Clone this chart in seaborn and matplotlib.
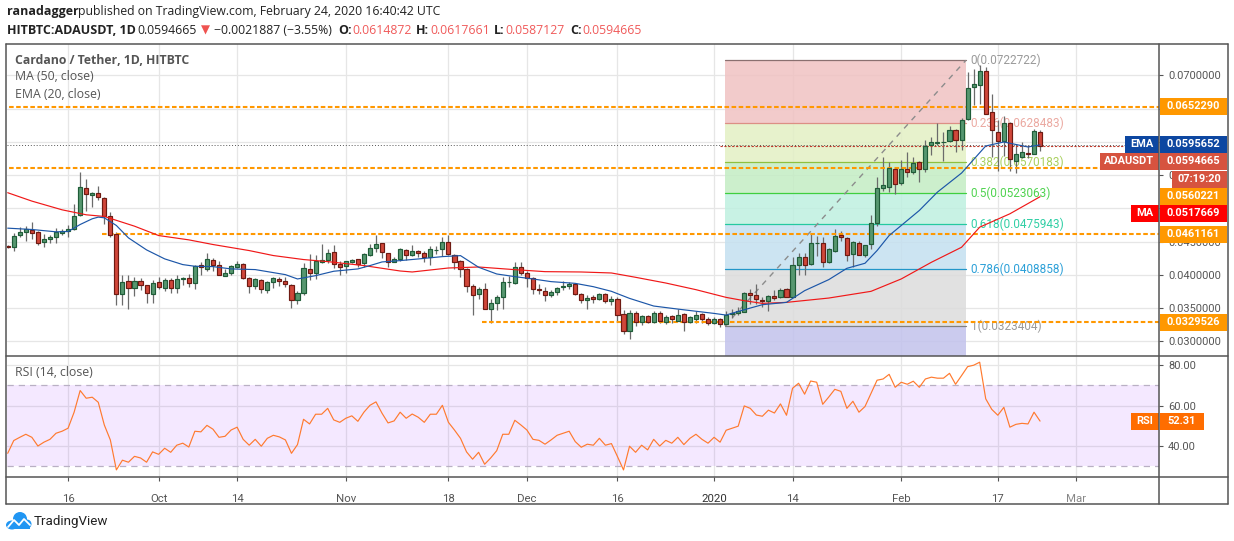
import pandas as pd
import numpy as np
import seaborn as sns
import matplotlib
matplotlib.use("Agg")
import matplotlib.pyplot as plt
from matplotlib.lines import Line2D
from matplotlib.patches import Rectangle, Ellipse

W, H = 1234, 541

# prices are read in 0.001 USDT, one entry per day, first candle is 6 Sep 2019
first_day = -10  # days counted from 16 Sep 2019

opens = [
    44.43, 44.17, 45.98, 46.49, 46.79, 46.49, 44.93, 45.38, 45.68, 46.29,
    46.54, 46.89, 48.95, 53.12, 52.01, 52.37, 51.61, 48.90, 46.19, 37.09,
    39.10, 37.99, 39.10, 38.50, 37.09, 38.95, 37.99, 39.25, 37.99, 39.35,
    39.55, 38.75, 41.51, 40.86, 42.27, 41.51, 39.80, 40.26, 41.16, 41.66,
    39.55, 38.30, 39.25, 37.69, 38.90, 39.40, 39.10, 38.50, 36.19, 37.24,
    40.91, 40.26, 41.96, 42.22, 43.47, 41.66, 41.31, 41.91, 42.42, 41.76,
    42.97, 44.02, 44.83, 43.32, 42.01, 42.37, 43.77, 43.01, 43.62, 43.32,
    42.66, 43.77, 43.87, 44.97, 43.01, 42.11, 40.90, 38.34, 37.08, 37.89,
    34.82, 35.73, 36.63, 38.89, 38.79, 41.20, 40.30, 39.55, 37.89, 37.64,
    36.93, 37.44, 38.14, 38.34, 38.64, 37.13, 36.18, 36.68, 36.33, 37.13,
    36.03, 36.38, 34.12, 31.51, 34.27, 32.86, 33.77, 32.86, 34.27, 32.86,
    33.77, 33.12, 34.12, 32.86, 33.32, 34.12, 33.37, 32.71, 33.37, 32.56,
    34.12, 34.22, 34.47, 37.29, 36.99, 36.23, 36.03, 36.84, 36.63, 37.89,
    36.63, 41.46, 42.71, 41.66, 44.78, 44.83, 41.96, 43.57, 46.03, 45.58,
    43.17, 44.83, 43.02, 44.67, 47.84, 53.12, 53.27, 55.98, 53.87, 55.98,
    55.53, 57.04, 55.98, 59.50, 59.90, 59.95, 60.15, 61.86, 60.35, 63.52,
    68.34, 68.64, 70.60, 64.57, 61.56, 60.15, 62.92, 57.19, 57.74, 58.39,
    58.19, 61.49,
]
highs = [
    44.53, 46.29, 47.19, 47.29, 48.04, 46.59, 46.19, 46.08, 47.09, 46.94,
    47.59, 50.61, 55.43, 54.48, 52.47, 53.32, 51.71, 49.40, 46.39, 40.05,
    40.05, 39.65, 39.55, 38.50, 39.25, 39.75, 39.55, 39.55, 40.05, 39.75,
    40.15, 41.56, 41.96, 43.37, 42.57, 42.17, 40.86, 41.56, 42.17, 41.86,
    39.75, 39.50, 39.45, 39.15, 39.65, 39.65, 39.65, 38.65, 37.54, 41.86,
    43.17, 43.07, 44.68, 43.97, 44.48, 42.17, 42.17, 42.42, 42.42, 43.37,
    44.68, 46.08, 44.83, 43.32, 42.67, 44.07, 43.92, 44.57, 43.77, 43.57,
    44.42, 44.42, 45.78, 46.08, 43.16, 42.26, 41.00, 38.64, 38.24, 38.74,
    36.38, 37.03, 39.75, 39.90, 41.96, 41.96, 40.65, 39.65, 38.64, 38.24,
    37.74, 38.24, 39.04, 38.89, 38.84, 37.34, 37.03, 36.93, 37.34, 37.34,
    36.83, 36.63, 34.72, 34.72, 34.52, 33.97, 33.97, 34.52, 34.52, 33.92,
    34.02, 34.82, 34.32, 33.87, 34.52, 34.32, 33.62, 33.62, 33.52, 34.52,
    34.87, 35.23, 37.39, 37.94, 38.64, 36.63, 37.04, 37.74, 38.04, 38.04,
    42.76, 43.27, 43.37, 46.28, 45.93, 45.78, 44.07, 46.84, 46.58, 45.68,
    45.18, 45.08, 44.57, 48.95, 54.72, 57.74, 56.99, 56.13, 57.24, 58.54,
    57.74, 57.14, 60.25, 60.76, 62.87, 61.46, 62.36, 62.01, 63.57, 70.50,
    71.00, 71.61, 71.31, 67.19, 63.27, 63.87, 63.02, 59.75, 60.05, 59.50,
    62.01, 61.77,
]
lows = [
    44.07, 43.57, 45.78, 45.18, 45.48, 44.48, 44.17, 44.78, 44.78, 46.08,
    45.68, 46.79, 48.80, 49.60, 50.20, 51.21, 47.69, 45.78, 35.53, 35.53,
    34.83, 36.89, 37.74, 35.83, 35.83, 37.94, 37.54, 37.34, 37.34, 38.55,
    38.14, 37.94, 40.05, 40.66, 40.56, 39.95, 39.80, 40.05, 41.06, 39.45,
    37.34, 37.84, 37.34, 37.34, 38.04, 38.40, 38.25, 35.08, 35.68, 37.04,
    39.25, 39.35, 41.76, 41.76, 41.06, 39.95, 40.26, 41.76, 41.16, 41.26,
    42.87, 43.42, 42.57, 41.16, 41.91, 42.17, 42.26, 42.91, 42.76, 41.91,
    41.56, 43.17, 42.91, 43.01, 40.85, 39.65, 37.39, 34.02, 36.43, 34.82,
    32.76, 34.72, 34.92, 38.24, 38.64, 40.05, 38.14, 37.18, 37.13, 36.13,
    36.63, 37.03, 37.74, 37.89, 37.03, 35.83, 34.92, 35.83, 36.23, 35.73,
    35.53, 33.11, 31.10, 30.30, 32.31, 32.41, 32.76, 32.81, 32.71, 32.61,
    32.71, 33.01, 31.51, 32.71, 32.71, 32.81, 32.51, 32.61, 32.21, 32.51,
    33.52, 34.02, 34.37, 35.63, 35.63, 35.23, 34.52, 36.23, 36.53, 36.73,
    36.63, 40.05, 40.05, 41.51, 42.92, 41.16, 41.81, 43.47, 45.18, 42.06,
    41.26, 42.97, 42.66, 43.97, 47.44, 52.61, 52.46, 52.11, 53.47, 54.73,
    55.13, 54.02, 55.53, 58.04, 59.50, 57.14, 60.00, 58.44, 58.84, 63.37,
    65.53, 65.78, 64.17, 57.74, 55.63, 57.84, 55.63, 55.33, 57.64, 57.64,
    58.14, 58.71,
]
closes = [
    44.17, 45.88, 46.49, 46.84, 46.29, 44.78, 45.43, 45.68, 46.39, 46.64,
    46.94, 48.90, 53.27, 52.22, 52.37, 51.71, 48.85, 45.98, 37.09, 38.95,
    37.99, 39.10, 38.45, 37.24, 38.80, 38.14, 39.25, 37.99, 39.40, 39.60,
    38.75, 41.31, 41.16, 42.42, 41.46, 39.95, 40.30, 41.36, 41.66, 39.50,
    38.30, 39.40, 37.84, 38.95, 39.55, 39.10, 38.60, 36.19, 37.29, 41.06,
    40.26, 42.11, 42.32, 43.32, 41.66, 41.21, 42.11, 42.32, 41.66, 43.12,
    44.07, 44.68, 43.42, 42.01, 42.42, 43.92, 43.01, 43.62, 43.32, 42.66,
    43.92, 43.82, 44.97, 43.11, 41.91, 40.85, 38.29, 36.93, 37.89, 34.82,
    35.78, 36.68, 38.94, 38.99, 41.20, 40.25, 39.55, 37.84, 37.74, 36.93,
    37.44, 38.04, 38.34, 38.64, 37.08, 36.18, 36.53, 36.38, 37.13, 36.03,
    36.38, 33.92, 31.51, 34.27, 32.86, 33.77, 32.86, 34.27, 33.01, 33.67,
    33.32, 33.97, 32.86, 33.67, 33.97, 33.32, 32.71, 33.37, 32.56, 33.97,
    34.27, 34.57, 37.29, 36.94, 36.33, 36.03, 36.84, 36.48, 37.79, 36.73,
    41.51, 42.71, 41.46, 44.83, 44.83, 41.96, 43.92, 45.88, 45.73, 43.02,
    44.98, 43.02, 44.47, 47.84, 53.12, 53.47, 56.13, 53.72, 55.98, 55.53,
    56.89, 55.98, 59.35, 60.05, 60.05, 60.05, 61.86, 60.35, 63.37, 68.19,
    68.79, 70.70, 64.27, 61.76, 60.15, 62.92, 57.49, 58.24, 58.54, 58.19,
    61.71, 59.47,
]
rsi_values = [
    36.4, 42.7, 44.3, 45.8, 44.3, 40.0, 41.9, 43.3, 46.3, 47.3,
    48.8, 56.7, 67.4, 63.6, 64.1, 61.6, 50.4, 43.0, 28.2, 33.0,
    32.0, 34.9, 34.1, 32.0, 37.1, 35.9, 38.9, 36.9, 40.4, 41.4,
    39.5, 47.3, 47.0, 50.2, 48.3, 44.3, 44.8, 47.9, 49.3, 43.3,
    40.4, 43.3, 39.9, 43.8, 45.3, 44.5, 43.0, 36.4, 40.7, 53.2,
    50.9, 55.7, 55.7, 58.6, 52.9, 51.7, 53.7, 54.9, 52.2, 56.7,
    60.1, 61.8, 56.2, 51.4, 52.4, 56.7, 53.7, 55.8, 54.2, 51.7,
    55.7, 55.7, 60.1, 51.7, 47.9, 43.8, 37.1, 33.5, 36.9, 31.0,
    34.1, 37.7, 45.8, 45.8, 52.7, 50.4, 47.9, 43.3, 42.8, 40.9,
    43.0, 45.3, 46.3, 47.3, 42.2, 39.4, 40.9, 40.4, 43.8, 40.4,
    41.2, 34.8, 28.2, 39.9, 36.9, 40.4, 38.1, 43.3, 40.0, 42.8,
    41.4, 44.3, 40.7, 43.8, 45.8, 43.3, 41.4, 44.3, 41.9, 47.8,
    48.8, 49.8, 59.8, 58.6, 55.3, 54.7, 57.7, 56.3, 60.8, 55.2,
    68.5, 71.0, 65.6, 72.1, 71.5, 60.6, 64.2, 68.0, 67.0, 58.6,
    62.1, 56.7, 59.5, 66.0, 72.5, 73.1, 75.4, 69.0, 71.5, 70.5,
    72.0, 69.0, 73.1, 74.0, 73.5, 73.5, 75.9, 70.5, 74.8, 79.2,
    79.9, 81.4, 63.3, 58.1, 55.2, 59.1, 49.3, 50.7, 51.2, 50.9,
    56.7, 52.31,
]

ema_days = [-10, -6, -2, 0, 2, 4, 5, 6, 8, 10, 13, 16, 19, 21, 24, 27, 31, 36, 38, 41,
            44, 48, 50, 52, 55, 58, 62, 65, 68, 71, 74, 77, 80, 84, 87, 90, 93, 97, 101,
            107, 109, 111, 115, 119, 122, 126, 129, 132, 134, 136, 141, 144, 148, 152,
            155, 159, 161]
ema_vals = [47.04, 46.84, 46.49, 46.54, 47.59, 48.45, 48.70, 48.60, 47.44, 45.58, 43.77,
            42.42, 41.56, 41.31, 41.26, 40.91, 40.81, 40.05, 39.40, 39.90, 40.56, 40.91,
            41.41, 41.96, 42.16, 42.41, 42.76, 42.91, 41.16, 40.15, 39.75, 39.40, 39.00,
            38.74, 38.24, 37.54, 36.48, 35.33, 34.87, 34.22, 33.97, 34.52, 35.53, 35.88,
            37.64, 39.30, 41.00, 41.76, 43.67, 45.93, 49.70, 52.46, 55.33, 59.40, 60.00,
            59.25, 59.57]
ma_days = [-10, -6, -1, 3, 6, 11, 15, 20, 24, 30, 34, 39, 43, 49, 55, 57, 60, 63, 68, 74,
           79, 85, 90, 94, 99, 104, 109, 112, 115, 119, 126, 133, 138, 143, 148, 151,
           156, 161]
ma_vals = [52.37, 51.11, 49.80, 49.05, 48.80, 47.34, 45.93, 45.28, 44.58, 43.67, 42.92,
           42.32, 42.01, 41.41, 40.60, 40.45, 40.75, 41.05, 41.20, 40.80, 40.50, 40.45,
           40.30, 39.65, 38.79, 37.79, 36.63, 36.13, 35.73, 35.88, 36.53, 37.54, 39.40,
           41.91, 44.17, 47.19, 49.20, 51.77]

tick_days = [0, 15, 28, 46, 63, 76, 91, 107, 120, 138, 154, 167]
tick_names = ["16", "Oct", "14", "Nov", "18", "Dec", "16", "2020", "14", "Feb", "17", "Mar"]
price_ticks = [0.03, 0.035, 0.04, 0.045, 0.05, 0.055, 0.06, 0.065, 0.07]
# these three are fully covered by the value boxes in the reference
covered_ticks = [0.05, 0.06, 0.065]
rsi_ticks = [40, 60, 80]

fib_ratios = ["0", "0.236", "0.382", "0.5", "0.618", "0.786", "1"]
fib_prices = [0.0722722, 0.0628483, 0.0570183, 0.0523063, 0.0475943, 0.0408858, 0.0323404]
fib_lines = ["#8a7070", "#dc8f85", "#8fc03f", "#3fcf3f", "#25c9a0", "#2196c9", "#808080"]
fib_texts = ["#9a9a9a", "#eba9a1", "#a9d05f", "#4fd34f", "#30cfa5", "#2ca0d8", "#9a9a9a"]
fib_bands = ["#f0c2c2", "#e3f0c4", "#c4edc4", "#bff0e0", "#c4e0f0", "#dcdcdc", "#c2c2ec"]
fib_start, fib_end = 108.8, 148.7

# horizontal levels: price, first day
levels = [(0.0652290, -11), (0.0560221, -11), (0.0461161, 5.6), (0.0329526, 68.6)]


def set_config():
    sns.set_theme(style="whitegrid", rc={
        "grid.color": "#e6e6e6", "grid.linewidth": 0.9,
        "xtick.color": "#555555", "ytick.color": "#555555",
        "axes.edgecolor": "#555555",
    })
    plt.rcParams["font.family"] = ["Roboto", "DejaVu Sans"]


def px_axes(fig, x0, y0, x1, y1):
    return fig.add_axes([x0 / W, 1 - y1 / H, (x1 - x0) / W, (y1 - y0) / H])


def fig_text(fig, x, y, s, **kw):
    kw.setdefault("va", "center")
    fig.text(x / W, 1 - y / H, s, **kw)


def fig_line(fig, x0, y0, x1, y1, color="#555555", lw=1.1):
    fig.add_artist(Line2D([x0 / W, x1 / W], [1 - y0 / H, 1 - y1 / H], color=color, lw=lw,
                          transform=fig.transFigure, zorder=6))


def box(fig, x0, x1, yc, s, color, height=17, txt="white", align="center"):
    fig.add_artist(Rectangle((x0 / W, 1 - (yc + height / 2) / H), (x1 - x0) / W, height / H,
                             facecolor=color, edgecolor="none",
                             transform=fig.transFigure, zorder=5))
    fig.text((x0 + x1) / 2 / W, 1 - yc / H, s, color=txt, fontsize=7.9, fontweight="bold",
             ha=align, va="center", zorder=7)


def draw_price_pane(ax, df):
    ax.set_xlim(-10.2, 180.7)
    ax.set_ylim(0.02789, 0.07481)
    ax.set_xticks(tick_days)
    ax.set_xticklabels([])
    ax.set_yticks(price_ticks)
    ax.set_yticklabels(["" if p in covered_ticks else "%.7f" % p for p in price_ticks], fontsize=7.9)
    ax.yaxis.tick_right()
    ax.tick_params(axis="y", length=3, width=0.8, pad=3.5, right=True)
    ax.tick_params(axis="x", length=0)
    ax.grid(True, zorder=0)
    ax.set_axisbelow(True)
    for s in ax.spines.values():
        s.set_visible(False)

    # fibonacci bands and levels
    edges = fib_prices + [0.02789]
    for i, c in enumerate(fib_bands):
        ax.fill_between([fib_start, fib_end], edges[i + 1], edges[i], color=c, alpha=0.85,
                        lw=0, zorder=1)
    for r, p, lc, tc in zip(fib_ratios, fib_prices, fib_lines, fib_texts):
        ax.plot([fib_start, fib_end], [p, p], color=lc, lw=0.9, zorder=2)
        ax.text(fib_end + 0.8, p, "%s(%.7f)" % (r, p), color=tc, fontsize=8.5, va="center",
                ha="left", zorder=2.2)
    ax.plot([fib_start, fib_end], [fib_prices[-1], fib_prices[0]], color="#8c8c8c", lw=1,
            dashes=(4, 4), zorder=2)

    # candles
    up = df[df.close >= df.open]
    down = df[df.close < df.open]
    for part, body, edge in ((up, "#56976f", "#1f5c38"), (down, "#d0473a", "#6e1a12")):
        ax.vlines(part.day, part.low, part.high, color="#6b6b6b", lw=0.9, zorder=3)
        ax.bar(part.day, (part.close - part.open).abs(), bottom=part[["open", "close"]].min(axis=1),
               width=0.68, color=body, edgecolor=edge, linewidth=0.85, zorder=4)

    for price, start in levels:
        ax.plot([start, 180.7], [price, price], color="#ff9800", lw=1.5, dashes=(2.2, 1.2), zorder=3.5)
    ax.plot([-10.2, 180.7], [closes[-1] / 1000 + 0.0001] * 2, color="#555555", lw=0.7,
            dashes=(1, 2), zorder=2.5)
    ax.plot([108, 180.7], [closes[-1] / 1000] * 2, color="#c0392b", lw=0.8, dashes=(2, 1.5), zorder=3.6)

    ema = pd.DataFrame({"day": ema_days, "value": np.array(ema_vals) / 1000})
    ma = pd.DataFrame({"day": ma_days, "value": np.array(ma_vals) / 1000})
    sns.lineplot(data=ma, x="day", y="value", color="#f01818", lw=0.85, ax=ax, zorder=5)
    sns.lineplot(data=ema, x="day", y="value", color="#1c56a8", lw=0.85, ax=ax, zorder=5)
    ax.set_xlabel("")
    ax.set_ylabel("")


def draw_rsi_pane(ax, df):
    ax.set_xlim(-10.2, 180.7)
    ax.set_ylim(24.7, 84.7)
    ax.set_yticks(rsi_ticks)
    ax.set_yticklabels(["%.2f" % v for v in rsi_ticks], fontsize=7.9)
    ax.yaxis.tick_right()
    ax.set_xticks(tick_days)
    ax.set_xticklabels(tick_names, fontsize=8.2)
    ax.tick_params(axis="y", length=3, width=0.8, pad=3.5, right=True)
    ax.tick_params(axis="x", length=3, width=0.8, pad=9, bottom=True)
    ax.grid(True, zorder=0)
    ax.set_axisbelow(True)
    for s in ax.spines.values():
        s.set_visible(False)
    for label in ax.get_xticklabels():
        if label.get_text() == "2020":
            label.set_color("#333333")
        if label.get_text() == "Mar":
            label.set_color("#888888")

    ax.axhspan(30, 70, color="#9b30ff", alpha=0.11, lw=0, zorder=1)
    for lvl in (30, 70):
        ax.axhline(lvl, color="#b9b0c4", lw=0.9, dashes=(5, 4), zorder=2)
    sns.lineplot(data=df, x="day", y="rsi", color="#ff7a2f", lw=0.85, ax=ax, zorder=3)
    ax.set_xlabel("")
    ax.set_ylabel("")


def draw_logo(fig):
    for x, y, w, h in ((12, 525, 12, 9), (20, 519, 14, 14), (27, 524, 9, 9)):
        fig.add_artist(Ellipse((x / W, 1 - y / H), w / W, h / H, facecolor="#2196f3",
                               edgecolor="none", transform=fig.transFigure, zorder=5))
    fig.add_artist(Rectangle((9 / W, 1 - 529 / H), 21 / W, 4 / H, facecolor="#2196f3",
                             edgecolor="none", transform=fig.transFigure, zorder=5))
    xs = np.array([8, 14, 19, 24, 30]) / W
    ys = 1 - np.array([527, 520, 525, 519, 525]) / H
    fig.add_artist(Line2D(xs, ys, color="white", lw=1.3, transform=fig.transFigure, zorder=6))


def draw_header(fig):
    font = ["Open Sans", "DejaVu Sans"]
    dark = "#222222"
    red = "#f05a5a"
    pieces = [
        (7, 12, "ranadagger", dark, "bold"),
        (78, 12, "published on TradingView.com, February 24, 2020 16:40:42 UTC", dark, "normal"),
        (7, 30, "HITBTC:ADAUSDT, 1D", dark, "bold"),
        (137, 30, "0.0594665", dark, "normal"),
        (214, 30, "−0.0021887 (−3.55%)", dark, "normal"),
        (338, 30, "O:", dark, "bold"),
        (352, 30, "0.0614872", red, "normal"),
        (416, 30, "H:", dark, "bold"),
        (430, 30, "0.0617661", red, "normal"),
        (494, 30, "L:", dark, "bold"),
        (505, 30, "0.0587127", red, "normal"),
        (570, 30, "C:", dark, "bold"),
        (582, 30, "0.0594665", red, "normal"),
    ]
    for x, y, s, c, w in pieces:
        fig_text(fig, x, y, s, color=c, fontweight=w, fontsize=9.0 if w == "bold" else 8.8, family=font)
    fig_text(fig, 205, 30, "▼", color="#ef5350", fontsize=8.5, ha="center", family=font)


def main():
    set_config()
    df = pd.DataFrame({"open": opens, "high": highs, "low": lows, "close": closes}) / 1000
    df["day"] = np.arange(len(df)) + first_day
    df["rsi"] = rsi_values

    fig = plt.figure(figsize=(W / 100, H / 100), dpi=100)
    price_ax = px_axes(fig, 6.5, 43.5, 1159, 355.5)
    rsi_ax = px_axes(fig, 6.5, 355.5, 1159, 477)
    draw_price_pane(price_ax, df)
    draw_rsi_pane(rsi_ax, df)

    # frame
    for x0, y0, x1, y1 in ((6, 43.5, 1227.5, 43.5), (6, 355.5, 1227.5, 355.5), (6, 477, 1227.5, 477),
                           (6, 504, 1227.5, 504), (6, 43.5, 6, 504), (1159, 43.5, 1159, 504),
                           (1227.5, 43.5, 1227.5, 504)):
        fig_line(fig, x0, y0, x1, y1)

    # pane titles
    grey = "#555555"
    fig_text(fig, 15, 60, "Cardano / Tether, 1D, HITBTC", color=grey, fontsize=8.8, fontweight="bold",
             family=["Open Sans", "DejaVu Sans"])
    fig_text(fig, 15, 77, "MA (50, close)", color=grey, fontsize=8.8, family=["Open Sans", "DejaVu Sans"])
    fig_text(fig, 15, 94, "EMA (20, close)", color=grey, fontsize=8.8, family=["Open Sans", "DejaVu Sans"])
    fig_text(fig, 15, 372, "RSI (14, close)", color=grey, fontsize=8.8, family=["Open Sans", "DejaVu Sans"])

    # value boxes on the price scale
    orange = "#ff9800"
    box(fig, 1159.5, 1227, 106, "0.0652290", orange)
    box(fig, 1125, 1158.5, 144, "EMA", "#0d47a1")
    box(fig, 1159.5, 1227, 144, "0.0595652", "#0d47a1")
    box(fig, 1100, 1158.5, 161, "ADAUSDT", "#d6533f")
    box(fig, 1159.5, 1227, 161, "0.0594665", "#d6533f")
    box(fig, 1172, 1227, 179.5, "07:19:20", "#d6533f")
    box(fig, 1159.5, 1227, 196, "0.0560221", orange)
    box(fig, 1131, 1158.5, 213, "MA", "#ff0000")
    box(fig, 1159.5, 1227, 213, "0.0517669", "#ff0000")
    box(fig, 1159.5, 1227, 234, "0.0461161", orange)
    box(fig, 1159.5, 1227, 322, "0.0329526", orange)
    box(fig, 1131, 1158.5, 421.5, "RSI", "#ff6d00")
    box(fig, 1159.5, 1204, 421.5, "52.31", "#ff6d00")

    draw_header(fig)
    draw_logo(fig)
    fig_text(fig, 34, 522, "TradingView", color="#222222", fontsize=9.6)

    fig.savefig("out.png", dpi=100)


if __name__ == "__main__":
    main()
